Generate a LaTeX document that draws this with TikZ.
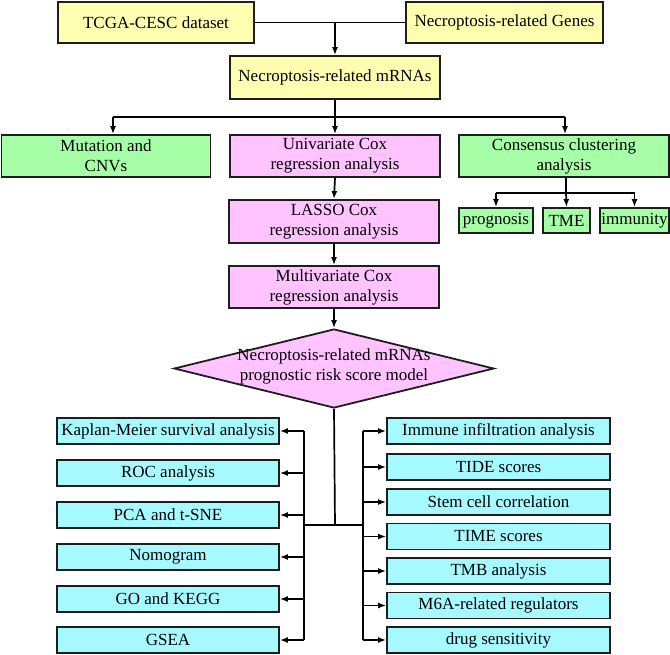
\documentclass[tikz,border=0pt]{standalone}
\usepackage{fontspec}
\setmainfont{Liberation Serif}
\usetikzlibrary{arrows.meta,shapes.geometric,calc}
\definecolor{cyel}{RGB}{255,255,178}
\definecolor{cgrn}{RGB}{166,255,166}
\definecolor{cpnk}{RGB}{255,196,255}
\definecolor{ccyn}{RGB}{166,250,255}
\definecolor{cbrd}{RGB}{30,30,30}
\tikzset{
  box/.style={draw=cbrd,line width=1.8pt,inner sep=1pt,align=center,font=\fontsize{17}{20}\selectfont},
  ybox/.style={box,fill=cyel},
  gbox/.style={box,fill=cgrn},
  pbox/.style={box,fill=cpnk},
  cbox/.style={box,fill=ccyn,minimum height=26pt},
  conn/.style={draw=black,line width=1.7pt},
  arr/.style={conn,-{Latex[length=8pt,width=6pt]}}
}
\begin{document}
\begin{tikzpicture}[x=1pt,y=-1pt]
\useasboundingbox (0,0) rectangle (670,654);
% top
\node[ybox,minimum width=196pt,minimum height=41pt] (tcga) at (156,22.5) {TCGA-CESC dataset};
\node[ybox,minimum width=197pt,minimum height=41pt] (genes) at (504.5,22.5) {Necroptosis-related Genes};
\node[ybox,minimum width=210pt,minimum height=43pt] (mrna) at (335,77.5) {Necroptosis-related mRNAs};
% row 2
\node[gbox,minimum width=209pt,minimum height=42pt] (mut) at (106,156) {Mutation and\\CNVs};
\node[pbox,minimum width=210pt,minimum height=42pt] (uni) at (335,156) {Univariate Cox\\regression analysis};
\node[gbox,minimum width=210pt,minimum height=42pt] (cons) at (564,156) {Consensus clustering\\analysis};
% sub row
\node[gbox,minimum width=74pt,minimum height=25pt] (prog) at (496,220.5) {prognosis};
\node[gbox,minimum width=47pt,minimum height=25pt] (tme) at (566.5,220.5) {TME};
\node[gbox,minimum width=69pt,minimum height=25pt] (imm) at (634.5,220.5) {immunity};
% center column
\node[pbox,minimum width=210pt,minimum height=43pt] (lasso) at (334,221.5) {LASSO Cox\\regression analysis};
\node[pbox,minimum width=210pt,minimum height=42pt] (multi) at (334,287) {Multivariate Cox\\regression analysis};
\node[diamond,draw=cbrd,line width=1.8pt,fill=cpnk,minimum width=320pt,minimum height=79pt,inner sep=0pt] (dia) at (334,368.5) {};
\node[align=center,font=\fontsize{17}{20}\selectfont,inner sep=0pt] (diatext) at (334,366) {Necroptosis-related mRNAs\\prognostic risk score model};
% left boxes
\foreach \n/\y/\t in {l1/431/Kaplan-Meier survival analysis,l2/473/ROC analysis,l3/515/PCA and t-SNE,l4/557/Nomogram,l5/599/GO and KEGG,l6/640/GSEA}{
  \node[cbox,minimum width=222pt] (\n) at (168,\y) {\t};
}
% right boxes
\foreach \n/\y/\t in {r1/431/Immune infiltration analysis,r2/467/TIDE scores,r3/502/Stem cell correlation,r4/536.5/TIME scores,r5/571/TMB analysis,r6/605.5/M6A-related regulators,r7/640/drug sensitivity}{
  \node[cbox,minimum width=223pt] (\n) at (498.5,\y) {\t};
}
% connectors top
\draw[conn] (tcga.east) -- (genes.west);
\draw[arr] (mrna.north |- tcga.east) -- (mrna.north);
\coordinate (b1) at (335,116.7);
\draw[conn] (mrna.south) -- (b1);
\draw[conn] (113,116.7) -- (565,116.7);
\draw[arr] (113,116.7) -- (mut.north -| 113,0);
\draw[arr] (b1) -- (uni.north);
\draw[arr] (565,116.7) -- (cons.north -| 565,0);
\draw[arr] (uni.south) -- (lasso.north);
\draw[arr] (lasso.south) -- (multi.north);
\draw[arr] (multi.south) -- (dia.north);
% consensus branch
\coordinate (b2) at (566,193);
\draw[conn] (cons.south -| b2) -- (b2);
\draw[conn] (prog.north |- b2) -- (imm.north |- b2);
\draw[arr] (prog.north |- b2) -- (prog.north);
\draw[arr] (b2) -- (tme.north);
\draw[arr] (imm.north |- b2) -- (imm.north);
% bottom branches
\coordinate (b3) at (335,525);
\draw[conn] (dia.south) -- (b3);
\draw[conn] (304,525) -- (363,525);
\draw[conn] (304,431) -- (304,640);
\draw[conn] (363,431) -- (363,640);
\foreach \n in {l1,l2,l3,l4,l5,l6}{
  \draw[arr] (\n.east -| 304,0) -- (\n.east);
}
\foreach \n in {r1,r2,r3,r4,r5,r6,r7}{
  \draw[arr] (\n.west -| 363,0) -- (\n.west);
}
\end{tikzpicture}
\end{document}
